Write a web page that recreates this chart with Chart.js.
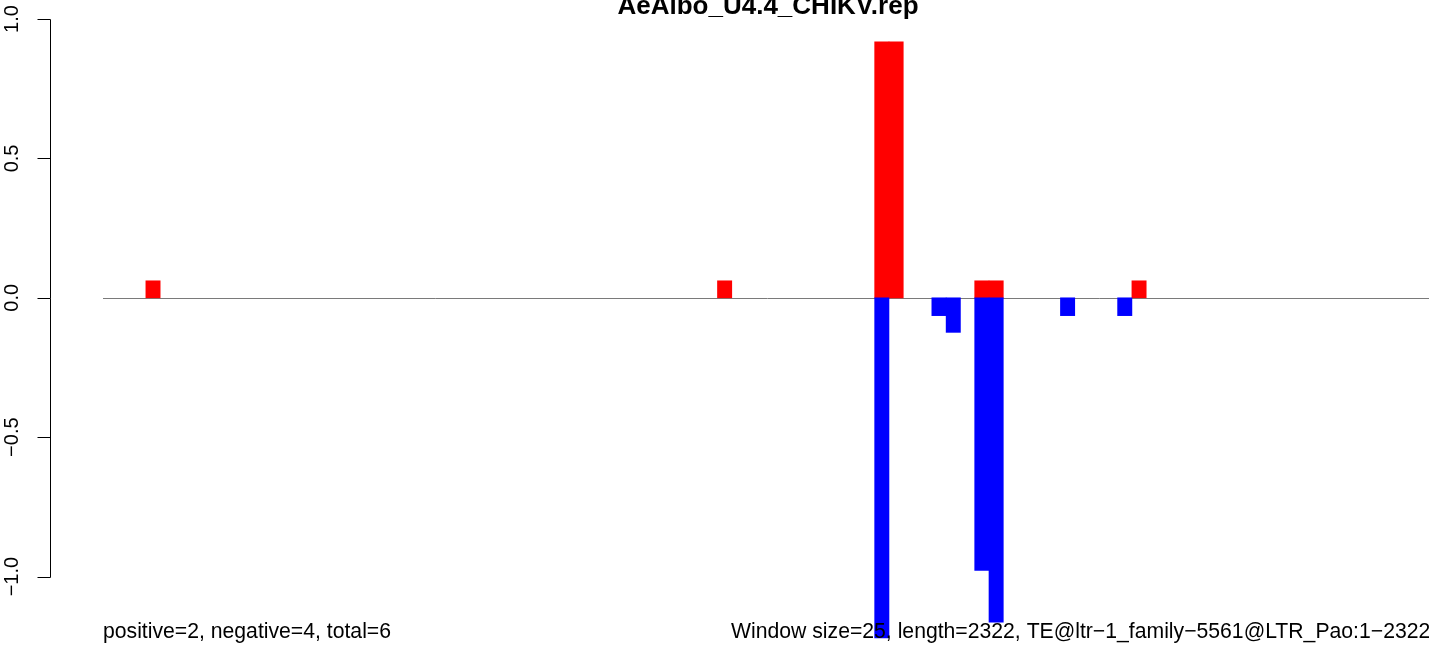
<!DOCTYPE html>
<html>
<head>
<meta charset="utf-8">
<script src="https://cdn.jsdelivr.net/npm/chart.js@4"></script>
<style>
	html, body { margin: 0; padding: 0; background: #fff; overflow: hidden; }
	#wrap { position: relative; width: 1432px; height: 645px; }
</style>
</head>
<body>
<div id="wrap"><canvas id="chart"></canvas></div>
<script>
const titleText = "AeAlbo_U4.4_CHIKV.rep";
const leftNote = "positive=2, negative=4, total=6";
const rightNote = "Window size=25, length=2322, TE@ltr\u22121_family\u22125561@LTR_Pao:1\u22122322";

const windowSize = 25;
const seqLength = 2322;
const windowCount = 93;

// windows (index) with a positive / negative score
const posWindows = [3, 43, 54, 55, 61, 62, 72];
const posValues = [0.061, 0.061, 0.918, 0.918, 0.061, 0.061, 0.061];
const negWindows = [54, 58, 59, 61, 62, 67, 71];
const negValues = [-1.22, -0.064, -0.124, -0.978, -1.164, -0.064, -0.064];

const yTicks = [-1.0, -0.5, 0.0, 0.5, 1.0];

const labels = [];
for (let i = 0; i < windowCount; i++) labels.push(i * windowSize);

function buildSeries(idx, vals) {
	const out = labels.map(() => null);
	idx.forEach((w, i) => { out[w] = vals[i]; });
	return out;
}

const font = "'Liberation Sans', Arial, sans-serif";

const rPlot = {
	id: 'rPlot',
	beforeDatasetsDraw(chart) {
		const { ctx, chartArea } = chart;
		const y = chart.scales.y;
		const y0 = Math.round(y.getPixelForValue(0)) + 0.5;
		ctx.save();
		ctx.strokeStyle = '#7a7a7a';
		ctx.lineWidth = 1;
		ctx.beginPath();
		ctx.moveTo(chartArea.left, y0);
		ctx.lineTo(chartArea.right, y0);
		ctx.stroke();
		ctx.restore();
	},
	afterDatasetsDraw(chart) {
		const { ctx } = chart;
		const y = chart.scales.y;
		const axisX = 50.5;
		ctx.save();
		ctx.strokeStyle = '#000';
		ctx.lineWidth = 1;
		ctx.beginPath();
		ctx.moveTo(axisX, Math.round(y.getPixelForValue(1)) + 0.5);
		ctx.lineTo(axisX, Math.round(y.getPixelForValue(-1)) + 0.5);
		yTicks.forEach(t => {
			const py = Math.round(y.getPixelForValue(t)) + 0.5;
			ctx.moveTo(axisX, py);
			ctx.lineTo(axisX - 13, py);
		});
		ctx.stroke();

		ctx.fillStyle = '#000';
		ctx.font = '20px ' + font;
		ctx.textAlign = 'center';
		ctx.textBaseline = 'middle';
		yTicks.forEach(t => {
			const py = y.getPixelForValue(t);
			ctx.save();
			ctx.translate(12, py);
			ctx.rotate(-Math.PI / 2);
			ctx.fillText(t.toFixed(1).replace('-', '\u2212'), 0, 0);
			ctx.restore();
		});

		ctx.textAlign = 'center';
		ctx.textBaseline = 'alphabetic';
		ctx.font = 'bold 26px ' + font;
		ctx.fillText(titleText, 768, 14);

		ctx.textAlign = 'left';
		ctx.font = '21.2px ' + font;
		ctx.fillText(leftNote, 103, 638);
		ctx.fillText(rightNote, 731, 638);
		ctx.restore();
	}
};

new Chart(document.getElementById('chart'), {
	type: 'bar',
	data: {
		labels,
		datasets: [
			{
				label: 'negative',
				data: buildSeries(negWindows, negValues),
				backgroundColor: '#0000ff',
				borderWidth: 0
			},
			{
				label: 'positive',
				data: buildSeries(posWindows, posValues),
				backgroundColor: '#ff0000',
				borderWidth: 0
			}
		]
	},
	options: {
		responsive: true,
		maintainAspectRatio: false,
		animation: false,
		layout: { padding: { left: 103, right: 0, top: 0, bottom: 0 } },
		datasets: { bar: { grouped: false, categoryPercentage: 1, barPercentage: 1 } },
		scales: {
			x: { display: false },
			y: { display: false, min: -1.2455, max: 1.0683 }
		},
		plugins: {
			legend: { display: false },
			tooltip: { enabled: false }
		}
	},
	plugins: [rPlot]
});
</script>
</body>
</html>
